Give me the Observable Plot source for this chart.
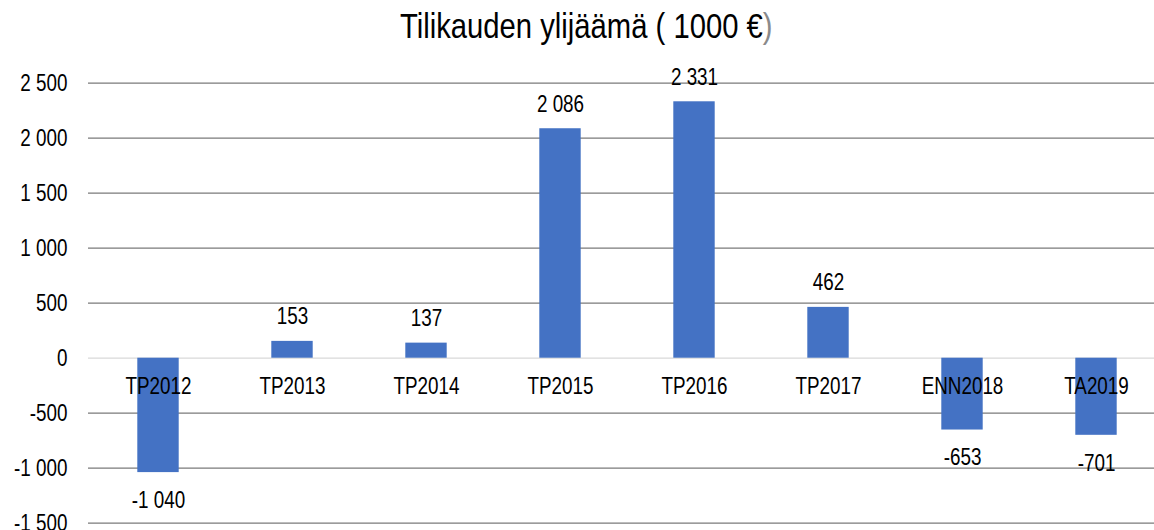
<!DOCTYPE html>
<html>
<head>
<meta charset="utf-8">
<script src="https://cdn.jsdelivr.net/npm/d3@7"></script>
<script src="https://cdn.jsdelivr.net/npm/@observablehq/plot@0.6"></script>
<style>
  html, body { margin: 0; padding: 0; background: #fff; }
  #title {
    height: 50px; width: 1154px; position: relative;
    font-family: "Liberation Sans", Arial, sans-serif;
    font-size: 35px; color: #000;
  }
  #title .t { position: absolute; left: 400px; top: 8px; white-space: nowrap; line-height: 1;
    transform: scaleX(0.835); transform-origin: 0 0; }
</style>
</head>
<body>
<div id="title"><span class="t">Tilikauden ylijäämä ( 1000 €<span style="color:#8a8a8a">)</span></span></div>
<div id="chart"></div>
<script>
const categories = ["TP2012", "TP2013", "TP2014", "TP2015", "TP2016", "TP2017", "ENN2018", "TA2019"];
const values = [-1040, 153, 137, 2086, 2331, 462, -653, -701];
const yTicks = [-1500, -1000, -500, 0, 500, 1000, 1500, 2000, 2500];

const data = categories.map((c, i) => ({category: c, value: values[i]}));
const locale = d3.formatLocale({decimal: ",", thousands: " ", grouping: [3], currency: ["", ""], minus: "-"});
const fmt = locale.format(",d");
const font = '"Liberation Sans", Arial, sans-serif';

const chart = Plot.plot({
  width: 1154,
  height: 480,
  marginLeft: 88,
  marginRight: 0,
  marginTop: 32.7,
  marginBottom: 7.3,
  style: {fontFamily: font, fontSize: "23px", background: "#fff"},
  x: {domain: categories, range: [88.7, 1165.5], padding: 0, axis: null},
  y: {domain: [-1500, 2500], axis: null},
  marks: [
    Plot.ruleY(yTicks.filter(d => d !== 0), {stroke: "#7a7a7a", strokeWidth: 1.3}),
    Plot.ruleY([0], {stroke: "#d9d9d9", strokeWidth: 1.3}),
    Plot.axisY({ticks: yTicks, tickSize: 0, tickPadding: 21, tickFormat: fmt, fontSize: 23, label: null}),
    Plot.barY(data, {x: "category", y: "value", fill: "#4472C4", insetLeft: 46.3, insetRight: 46.3}),
    Plot.text(data, {x: "category", y: () => 0, text: "category", lineAnchor: "bottom", dy: 36, fontSize: 23, fill: "#000"}),
    Plot.text(data.filter(d => d.value >= 0), {x: "category", y: "value", text: d => fmt(d.value), lineAnchor: "bottom", dy: -17, fontSize: 23, fill: "#000"}),
    Plot.text(data.filter(d => d.value < 0), {x: "category", y: "value", text: d => fmt(d.value), lineAnchor: "top", dy: 19, fontSize: 23, fill: "#000"})
  ]
});
// condense the text horizontally (narrow typeface look)
chart.querySelectorAll("text").forEach(t => {
  const tr = t.getAttribute("transform") || "";
  t.setAttribute("transform", (tr + " scale(0.82,1)").trim());
});
document.getElementById("chart").appendChild(chart);
</script>
</body>
</html>
